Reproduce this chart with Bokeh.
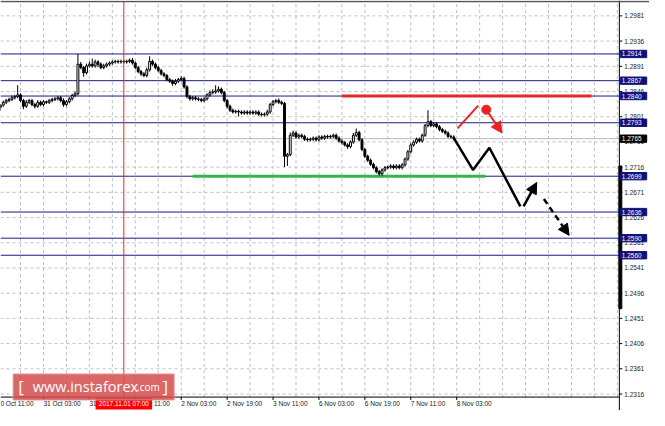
from bokeh.plotting import figure
from bokeh.models import Range1d, Arrow, NormalHead, ColumnDataSource
from bokeh.core.properties import value
from bokeh.embed import file_html
from bokeh.resources import INLINE

# ---------------- data (H1 candles) ----------------
first_bar = 1
first_open = 1.2820
closes = [
    1.2824, 1.2829, 1.2832, 1.2834, 1.2837, 1.2839, 1.2842, 1.2832, 1.2822, 1.2829,
    1.2832, 1.2825, 1.2822, 1.2829, 1.2825, 1.2830, 1.2829, 1.2832, 1.2834, 1.2835,
    1.2837, 1.2832, 1.2825, 1.2830, 1.2835, 1.2841, 1.2844, 1.2896, 1.2890, 1.2881,
    1.2893, 1.2896, 1.2893, 1.2900, 1.2896, 1.2890, 1.2893, 1.2896, 1.2898, 1.2900,
    1.2901, 1.2900, 1.2901, 1.2900, 1.2901, 1.2903, 1.2898, 1.2890, 1.2883, 1.2879,
    1.2876, 1.2886, 1.2901, 1.2896, 1.2890, 1.2885, 1.2879, 1.2876, 1.2869, 1.2866,
    1.2862, 1.2866, 1.2869, 1.2871, 1.2856, 1.2839, 1.2835, 1.2837, 1.2835, 1.2834,
    1.2832, 1.2835, 1.2842, 1.2846, 1.2847, 1.2849, 1.2852, 1.2846, 1.2832, 1.2822,
    1.2815, 1.2812, 1.2813, 1.2812, 1.2810, 1.2812, 1.2810, 1.2812, 1.2810, 1.2812,
    1.2808, 1.2807, 1.2808, 1.2812, 1.2825, 1.2830, 1.2832, 1.2829, 1.2827, 1.2734,
    1.2737, 1.2771, 1.2775, 1.2768, 1.2771, 1.2769, 1.2764, 1.2763, 1.2764, 1.2766,
    1.2763, 1.2768, 1.2766, 1.2769, 1.2768, 1.2769, 1.2771, 1.2766, 1.2761, 1.2758,
    1.2754, 1.2751, 1.2759, 1.2771, 1.2776, 1.2763, 1.2746, 1.2734, 1.2727, 1.2720,
    1.2714, 1.2707, 1.2703, 1.2710, 1.2714, 1.2715, 1.2717, 1.2714, 1.2717, 1.2714,
    1.2719, 1.2729, 1.2742, 1.2754, 1.2759, 1.2764, 1.2761, 1.2771, 1.2788, 1.2795,
    1.2788, 1.2791, 1.2786, 1.2781, 1.2778, 1.2775, 1.2769, 1.2768, 1.2765,
]
# wick lengths above / below the candle body, in pips
wick_up = [
    2, 3, 3, 3, 4, 3, 17, 3, 3, 4,
    3, 3, 3, 4, 3, 3, 2, 3, 3, 3,
    3, 3, 4, 3, 3, 3, 4, 18, 4, 3,
    4, 5, 10, 4, 3, 3, 4, 3, 3, 3,
    3, 3, 3, 3, 3, 3, 4, 3, 3, 3,
    3, 4, 9, 3, 3, 3, 3, 3, 3, 3,
    3, 4, 3, 4, 3, 3, 3, 3, 3, 3,
    3, 3, 3, 4, 5, 10, 5, 3, 3, 3,
    3, 3, 3, 3, 3, 3, 3, 3, 3, 3,
    3, 3, 3, 4, 3, 3, 3, 4, 3, 3,
    3, 5, 4, 3, 3, 3, 3, 3, 3, 3,
    3, 3, 3, 3, 3, 3, 3, 3, 3, 3,
    3, 3, 3, 4, 7, 3, 3, 3, 3, 3,
    3, 3, 3, 3, 3, 3, 3, 3, 3, 3,
    3, 3, 3, 3, 3, 3, 3, 3, 3, 20,
    3, 3, 3, 3, 3, 3, 3, 3, 3,
]
wick_dn = [
    6, 3, 3, 3, 3, 3, 3, 3, 5, 3,
    3, 3, 4, 3, 3, 3, 3, 3, 3, 3,
    3, 3, 4, 3, 3, 3, 3, 3, 3, 7,
    3, 3, 3, 3, 5, 3, 3, 3, 3, 3,
    3, 3, 3, 3, 3, 3, 3, 3, 3, 4,
    3, 3, 3, 3, 3, 3, 3, 3, 3, 3,
    4, 3, 3, 3, 3, 3, 3, 3, 3, 3,
    3, 3, 3, 3, 3, 3, 3, 3, 3, 4,
    3, 3, 3, 8, 3, 3, 3, 3, 3, 3,
    3, 3, 3, 3, 3, 3, 3, 3, 3, 19,
    17, 3, 3, 3, 3, 3, 3, 3, 3, 3,
    3, 3, 3, 3, 3, 3, 3, 3, 3, 3,
    3, 4, 3, 3, 3, 3, 3, 3, 3, 3,
    3, 3, 3, 3, 3, 3, 3, 3, 3, 3,
    3, 3, 3, 3, 3, 3, 3, 3, 3, 3,
    3, 3, 3, 3, 3, 3, 3, 3, 3,
]
pip = 0.0001

# time scale: the first label is only partly visible at the left edge
time_label_bars = [1, 16, 32, 48, 64, 80, 96, 112, 128, 144, 160]
time_labels = ["0 Oct 11:00", "31 Oct 03:00", "31 Oct 19:00", "1 Nov 11:00",
               "2 Nov 03:00", "2 Nov 19:00", "3 Nov 11:00", "6 Nov 03:00",
               "6 Nov 19:00", "7 Nov 11:00", "8 Nov 03:00"]
price_labels = ["1.2981", "1.2936", "1.2891", "1.2846", "1.2801", "1.2756", "1.2716",
                "1.2671", "1.2626", "1.2581", "1.2541", "1.2496", "1.2451", "1.2406",
                "1.2361", "1.2316"]
price_top, price_bottom = 1.2981, 1.2316
grid_bar_step = 8

levels = [1.2914, 1.2867, 1.2840, 1.2793, 1.2699, 1.2636, 1.2590, 1.2560]
current_price = 1.2765
resistance = {"price": 1.2840, "from": 120, "to": 207}
support = {"price": 1.2699, "from": 68, "to": 170}
marker_bar = 44
marker_text = "2017.11.01 07:00"
scale_bar = (1.2717, 1.2466)

# forecast scenario
path_bars = [159, 165.7, 171.4, 182.2]
path_prices = [1.2766, 1.2710, 1.2749, 1.2646]
up_arrow = (183.3, 1.2646, 187.9, 1.2688)
dash_arrow = (190.4, 1.2659, 199.2, 1.2595)
red_stroke_bars = [160.3, 167.5]
red_stroke_prices = [1.2783, 1.2823]
red_dot = (170.3, 1.2816)
red_arrow = (170.3, 1.2816, 175.8, 1.2775)

# ---------------- geometry of the terminal window ----------------
X_L, X_R = 1.02, 227.2          # whole canvas, in bar units
Y_B, Y_T = 1.2287, 1.3008       # whole canvas, in price units
CH_R = 216.7                    # right edge of the chart pane
CH_B = 1.23106                  # bottom edge of the chart pane
CH_T = 1.30064                  # top edge of the chart pane
PX_X = 0.34                     # one pixel in bar units
PX_Y = 0.0001693                # one pixel in price units

FONT = value("Liberation Sans")
NAVY = "#1c1c86"
TAG = "#10107c"
RED = "#ee2222"

p = figure(width=649, height=410, x_range=Range1d(X_L, X_R), y_range=Range1d(Y_B, Y_T),
           x_axis_location=None, y_axis_location=None, output_backend="svg",
           toolbar_location=None, min_border=0)
p.background_fill_color = "white"
p.border_fill_color = "white"
p.outline_line_color = None
p.grid.visible = False

# dashed grid
step = (price_top - price_bottom) / (len(price_labels) - 1)
yt = [price_top - k * step for k in range(len(price_labels))]
xt = list(range(0, int(CH_R) + 1, grid_bar_step))
p.multi_line(xs=[[X_L, CH_R]] * len(yt), ys=[[v, v] for v in yt],
             line_color="#bfbfbf", line_width=1, line_dash="3 3")
p.multi_line(xs=[[v, v] for v in xt], ys=[[CH_B, CH_T]] * len(xt),
             line_color="#bfbfbf", line_width=1, line_dash="3 3")

# level lines
p.multi_line(xs=[[X_L, CH_R]] * len(levels), ys=[[lv, lv] for lv in levels],
             line_color=NAVY, line_width=1)
p.line([X_L, CH_R], [current_price, current_price], line_color="#b8b8b8", line_width=1)

# support / resistance
p.line([resistance["from"], resistance["to"]], [resistance["price"]] * 2,
       line_color="#e8262b", line_width=3)
p.line([support["from"], support["to"]], [support["price"]] * 2,
       line_color="#34b44a", line_width=3)

# candles
bars = list(range(first_bar, first_bar + len(closes)))
opens = [first_open] + closes[:-1]
tops = [max(o, c) for o, c in zip(opens, closes)]
bots = [min(o, c) for o, c in zip(opens, closes)]
highs = [t + u * pip for t, u in zip(tops, wick_up)]
lows = [b - d * pip for b, d in zip(bots, wick_dn)]
fills = ["white" if c >= o else "black" for o, c in zip(opens, closes)]
src = ColumnDataSource(dict(x=bars, o=opens, c=closes, top=tops, bot=bots,
                            hi=highs, lo=lows, fill=fills))
p.segment(x0="x", y0="hi", x1="x", y1="lo", source=src, line_color="black", line_width=1)
p.vbar(x="x", width=0.66, top="top", bottom="bot", source=src,
       fill_color="fill", line_color="black", line_width=1)

# time marker line
p.line([marker_bar, marker_bar], [CH_B, CH_T], line_color="#ff2020", line_width=1)

# forecast scenario
p.line(path_bars, path_prices, line_color="black", line_width=2.5)
p.add_layout(Arrow(end=NormalHead(size=11, fill_color="black", line_color="black"),
                   x_start=up_arrow[0], y_start=up_arrow[1], x_end=up_arrow[2], y_end=up_arrow[3],
                   line_color="black", line_width=2.5))
p.add_layout(Arrow(end=NormalHead(size=11, fill_color="black", line_color="black"),
                   x_start=dash_arrow[0], y_start=dash_arrow[1], x_end=dash_arrow[2], y_end=dash_arrow[3],
                   line_color="black", line_width=2.5, line_dash="6 4"))
p.line(red_stroke_bars, red_stroke_prices, line_color=RED, line_width=2)
p.scatter([red_dot[0]], [red_dot[1]], size=9, fill_color=RED, line_color=RED)
p.add_layout(Arrow(end=NormalHead(size=11, fill_color=RED, line_color=RED),
                   x_start=red_arrow[0], y_start=red_arrow[1], x_end=red_arrow[2], y_end=red_arrow[3],
                   line_color=RED, line_width=2))

# ---------------- price scale and time scale ----------------
p.quad(left=[CH_R, X_L], right=[X_R, X_R], top=[Y_T, CH_B], bottom=[Y_B, Y_B],
       fill_color="white", line_color=None)
# frame lines
p.line([CH_R, CH_R], [Y_B + 0.00005, Y_T], line_color="black", line_width=1)
p.line([X_L, CH_R], [CH_B, CH_B], line_color="black", line_width=1)
p.line([X_L, X_R], [CH_T, CH_T], line_color="#555555", line_width=1.5)
# thick bar on the price scale
p.quad(left=[CH_R - 0.5 * PX_X], right=[CH_R + 2.5 * PX_X], top=[scale_bar[0]],
       bottom=[scale_bar[1]], fill_color="black", line_color="black")

# price ticks and labels
p.segment(x0=[CH_R] * len(yt), y0=yt, x1=[CH_R + 3 * PX_X] * len(yt), y1=yt,
          line_color="black", line_width=1)
p.text(x=[CH_R + 5 * PX_X] * len(yt), y=yt, text=price_labels, text_font=FONT,
       text_font_size="6.5px", text_color="#222222", text_baseline="middle",
       text_align="left")
# time ticks and labels
p.segment(x0=time_label_bars[1:], y0=[CH_B] * (len(time_label_bars) - 1),
          x1=time_label_bars[1:], y1=[CH_B - 3 * PX_Y] * (len(time_label_bars) - 1),
          line_color="black", line_width=1)
label_y = CH_B - 7 * PX_Y
p.text(x=time_label_bars, y=[label_y] * len(time_label_bars), text=time_labels,
       text_font=FONT, text_font_size="6.5px", text_color="#222222",
       text_baseline="middle", text_align="left")

# level tags on the price scale
tag_prices = levels + [current_price]
tag_colors = [TAG] * len(levels) + ["black"]
p.quad(left=[CH_R + PX_X] * len(tag_prices), right=[CH_R + 28 * PX_X] * len(tag_prices),
       top=[v + 3.8 * PX_Y for v in tag_prices], bottom=[v - 3.8 * PX_Y for v in tag_prices],
       fill_color=tag_colors, line_color=tag_colors)
p.text(x=[CH_R + 2.5 * PX_X] * len(tag_prices), y=tag_prices,
       text=[f"{v:.4f}" for v in tag_prices], text_font=FONT, text_font_size="6.5px",
       text_color="white", text_baseline="middle", text_align="left")

# time marker tag
p.quad(left=[marker_bar - 29 * PX_X], right=[marker_bar + 29 * PX_X],
       top=[CH_B - 1 * PX_Y], bottom=[CH_B - 13 * PX_Y], fill_color="#ff0000", line_color=None)
p.text(x=[marker_bar], y=[label_y], text=[marker_text], text_font=FONT,
       text_font_size="6.5px", text_color="white", text_baseline="middle", text_align="center")

# watermark
p.quad(left=[13 * PX_X + X_L], right=[178 * PX_X + X_L],
       top=[CH_B + 24 * PX_Y], bottom=[CH_B - 3 * PX_Y],
       fill_color="#d64c4c", fill_alpha=0.85, line_color="#e59090", line_alpha=0.9)
wm_y = CH_B + 11 * PX_Y
p.text(x=[21 * PX_X + X_L], y=[wm_y], text=["["], text_color="white",
       text_font=value("Open Sans"), text_font_size="17px", text_baseline="middle",
       text_align="center")
p.text(x=[33 * PX_X + X_L], y=[wm_y], text=["www.instaforex"], text_color="white",
       text_font=value("Open Sans"), text_font_size="14.5px", text_baseline="middle")
p.text(x=[140 * PX_X + X_L], y=[wm_y - 1 * PX_Y], text=[".com"], text_color="white",
       text_font=value("Open Sans"), text_font_size="10px", text_baseline="middle")
p.text(x=[169 * PX_X + X_L], y=[wm_y], text=["]"], text_color="white",
       text_font=value("Open Sans"), text_font_size="17px", text_baseline="middle",
       text_align="center")

open("out.html", "w").write(file_html(p, INLINE))
